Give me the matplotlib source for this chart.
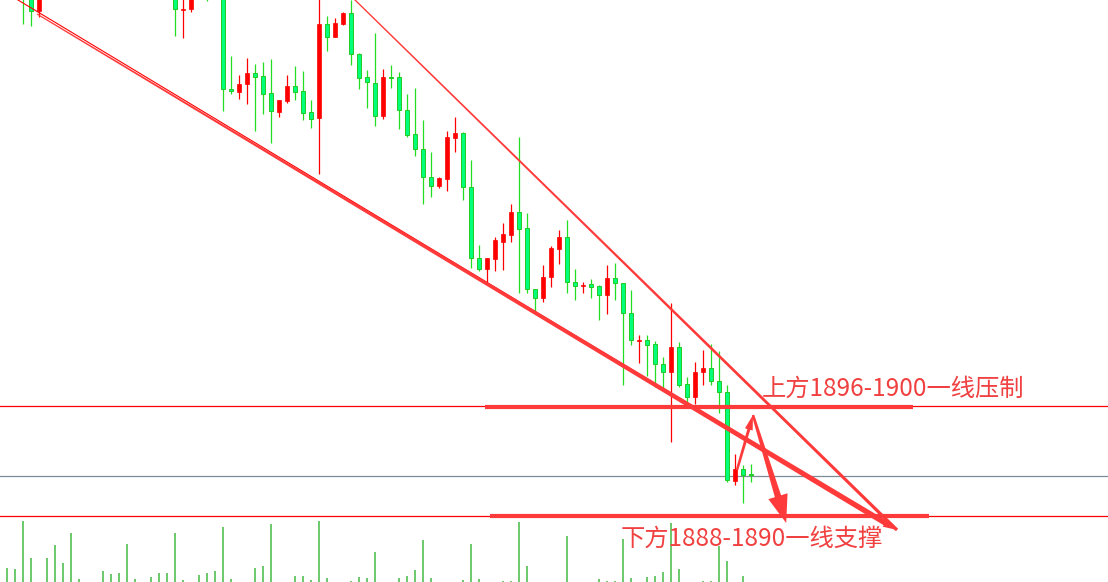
import numpy as np
import matplotlib
matplotlib.use("Agg")
import matplotlib.pyplot as plt
from matplotlib.patches import Polygon
from matplotlib.transforms import IdentityTransform

plt.rcParams['font.family'] = ['Noto Sans CJK SC', 'DejaVu Sans']

# candle data (red = up, green = down)
opens = [1944.0, 1942.6, 1942.0, 1940.5, 1938.9, 1941.5, 1943.5, 1945.2, 1944.1, 1948.1,
         1947.4, 1946.2, 1947.3, 1944.8, 1945.6, 1943.3, 1947.2, 1946.1, 1944.6, 1945.3,
         1943.0, 1941.5, 1939.0, 1939.1, 1941.0, 1942.2, 1941.1, 1942.0, 1931.1, 1930.8,
         1931.6, 1932.7, 1932.4, 1930.7, 1928.8, 1929.9, 1931.4, 1930.9, 1928.8, 1928.2,
         1937.6, 1936.3, 1937.6, 1938.7, 1934.6, 1932.3, 1931.7, 1928.4, 1932.3, 1932.3,
         1929.0, 1926.6, 1925.1, 1922.3, 1921.4, 1922.1, 1926.2, 1926.7, 1921.3, 1914.2,
         1913.1, 1914.1, 1915.8, 1916.5, 1918.8, 1917.2, 1911.1, 1910.2, 1912.3, 1915.1,
         1916.3, 1911.8, 1911.4, 1911.6, 1911.4, 1910.5, 1912.2, 1911.7, 1908.7, 1905.9,
         1906.0, 1905.6, 1903.6, 1902.8, 1905.3, 1901.6, 1900.3, 1902.8, 1903.2, 1901.9,
         1900.8, 1891.9, 1893.1, 1892.55]
highs = [1945.2, 1943.5, 1942.9, 1941.0, 1942.5, 1944.5, 1946.0, 1946.4, 1948.9, 1949.6,
         1948.4, 1947.9, 1948.1, 1946.1, 1946.4, 1947.9, 1947.8, 1946.9, 1945.9, 1945.8,
         1944.2, 1942.0, 1940.6, 1941.6, 1942.8, 1943.0, 1943.4, 1942.8, 1934.4, 1932.5,
         1934.2, 1933.6, 1933.8, 1934.1, 1930.0, 1932.5, 1933.4, 1932.9, 1930.0, 1940.5,
         1938.4, 1938.2, 1938.8, 1940.0, 1934.7, 1933.0, 1936.7, 1933.1, 1933.5, 1932.8,
         1930.6, 1931.2, 1928.0, 1924.8, 1922.3, 1926.9, 1928.3, 1926.8, 1924.0, 1915.5,
         1914.2, 1916.3, 1917.7, 1919.6, 1926.3, 1918.7, 1911.1, 1913.5, 1915.4, 1917.0,
         1918.0, 1913.1, 1911.8, 1912.1, 1911.5, 1913.5, 1913.7, 1911.7, 1911.0, 1906.5,
         1906.5, 1905.9, 1904.3, 1909.7, 1905.8, 1902.3, 1903.8, 1905.0, 1905.6, 1904.9,
         1901.5, 1894.6, 1893.5, 1893.6]
lows = [1942.1, 1941.2, 1937.6, 1937.4, 1938.3, 1940.6, 1942.8, 1943.5, 1943.6, 1946.9,
        1945.8, 1944.9, 1944.3, 1943.2, 1942.8, 1942.9, 1945.6, 1944.2, 1943.1, 1942.6,
        1941.1, 1936.4, 1936.2, 1938.8, 1940.3, 1939.9, 1940.4, 1928.9, 1930.6, 1930.1,
        1929.6, 1926.9, 1928.6, 1925.7, 1928.3, 1929.7, 1930.0, 1928.0, 1927.2, 1922.6,
        1934.9, 1936.3, 1937.5, 1933.5, 1931.1, 1929.2, 1927.4, 1928.1, 1931.2, 1927.1,
        1926.3, 1924.4, 1919.6, 1920.3, 1921.2, 1920.9, 1924.8, 1920.0, 1913.2, 1912.9,
        1911.6, 1912.9, 1913.0, 1915.8, 1910.7, 1910.7, 1908.8, 1909.8, 1911.3, 1913.6,
        1910.7, 1910.0, 1910.7, 1910.2, 1908.0, 1908.6, 1910.0, 1901.5, 1905.5, 1903.7,
        1902.4, 1901.3, 1901.2, 1895.8, 1901.3, 1899.7, 1899.6, 1901.5, 1901.5, 1898.7,
        1891.8, 1891.5, 1889.7, 1891.8]
closes = [1942.6, 1941.9, 1940.5, 1938.9, 1941.5, 1943.5, 1945.2, 1944.1, 1948.1, 1947.4,
          1946.2, 1947.3, 1944.8, 1945.6, 1943.3, 1947.2, 1946.1, 1944.6, 1945.3, 1943.0,
          1942.2, 1939.1, 1939.1, 1941.0, 1942.2, 1941.1, 1942.6, 1931.1, 1930.9, 1931.6,
          1932.7, 1932.3, 1930.6, 1928.9, 1930.0, 1931.4, 1930.8, 1928.7, 1928.1, 1937.6,
          1936.3, 1937.7, 1938.7, 1934.6, 1932.2, 1931.8, 1928.4, 1932.3, 1932.2, 1929.0,
          1926.5, 1925.1, 1922.3, 1921.4, 1922.2, 1926.3, 1926.7, 1921.3, 1914.2, 1913.1,
          1914.2, 1916.0, 1916.6, 1918.8, 1917.1, 1911.1, 1910.2, 1912.3, 1915.2, 1916.3,
          1911.8, 1911.4, 1911.5, 1911.3, 1910.5, 1912.2, 1911.7, 1908.7, 1906.0, 1906.0,
          1905.5, 1903.6, 1902.8, 1905.3, 1901.5, 1900.3, 1902.8, 1903.2, 1901.9, 1900.8,
          1892.0, 1893.1, 1892.5, 1892.5]
volumes = [14, 13, 61, 24, 0, 24, 37, 19, 49, 3,
           0, 0, 11, 8, 9, 38, 3, 0, 5, 9,
           9, 49, 2, 0, 7, 9, 11, 55, 3, 0,
           0, 14, 16, 58, 0, 0, 6, 6, 2, 61,
           4, 0, 0, 1, 5, 4, 30, 0, 0, 4,
           6, 12, 42, 4, 0, 0, 0, 2, 38, 3,
           0, 0, 1, 1, 60, 16, 0, 0, 0, 0,
           46, 0, 0, 0, 3, 1, 1, 43, 4, 0,
           5, 6, 10, 59, 13, 0, 0, 1, 1, 36,
           21, 0, 6, 0]

# levels and annotations (x = bar index, y = price)
level_upper = 1899.45
level_mid = 1892.45
level_lower = 1888.45
zone_upper = (59.75, 113.25, 1899.3)
zone_lower = (60.4, 115.25, 1888.4)
lower_thin = ((1.375, 1940.0), (107.9, 1888.7))
lower_arrow = ((3.75, 1938.6), (111.25, 1887.0))
upper_arrow = ((43.25, 1940.2), (111.25, 1887.0))
up_arrow = ((91.25, 1893.0), (93.25, 1898.5))
down_arrow = ((93.25, 1898.5), (97.4, 1887.7))
text_upper = (94.4, 1901.1, '上方1896-1900一线压制')
text_lower = (76.75, 1886.1, '下方1888-1890一线支撑')

RED = '#ff0000'
ANN = '#ff3a3a'
GREEN_FILL = '#00ff7a'
GREEN_EDGE = '#22cc22'

fig = plt.figure(figsize=(11.08, 5.82), dpi=100)
fig.patch.set_facecolor('white')

x = np.arange(len(opens))
xlim = (-0.875, 137.625)

# volume panel
vax = fig.add_axes([0, 0, 1, 65 / 582])
vax.vlines(x, 0, volumes, color='#44bb44', lw=1.1)
vax.set_xlim(xlim)
vax.set_ylim(0, 65)
vax.axis('off')

ax = fig.add_axes([0, 0, 1, 1])
ax.patch.set_alpha(0)
ax.set_xlim(xlim)
ax.set_ylim(1881.8, 1940.0)
ax.axis('off')

# candles
for i in range(len(opens)):
    up = closes[i] >= opens[i]
    col = RED if up else '#22dd22'
    ax.vlines(i, lows[i], highs[i], color=col, lw=0.9, zorder=3)
    bottom = min(opens[i], closes[i])
    h = max(abs(closes[i] - opens[i]), 0.06)
    if up:
        ax.bar(i, h, bottom=bottom, width=0.6, color=RED, edgecolor=RED, lw=0.5, zorder=4)
    else:
        ax.bar(i, h, bottom=bottom, width=0.6, color=GREEN_FILL, edgecolor=GREEN_EDGE, lw=0.7, zorder=4)

# horizontal lines
ax.axhline(level_upper, color=RED, lw=0.9, zorder=2)
ax.axhline(level_mid, color='#7b8b98', lw=0.9, zorder=2)
ax.axhline(level_lower, color=RED, lw=0.9, zorder=2)
ax.hlines(zone_upper[2], zone_upper[0], zone_upper[1], color=ANN, lw=3.0, zorder=5)
ax.hlines(zone_lower[2], zone_lower[0], zone_lower[1], color=ANN, lw=3.0, zorder=5)


def taper(p0, p1, w0, w1, color, head_len=0.0, head_w=0.0):
    # tapered line / arrow, widths in pixels
    a, b = ax.transData.transform([p0, p1])
    d = b - a
    length = np.hypot(*d)
    u = d / length
    n = np.array([-u[1], u[0]])
    if head_len > 0:
        base = b - u * head_len
        pts = [a + n * w0 / 2, base + n * w1 / 2, base + n * head_w / 2, b,
               base - n * head_w / 2, base - n * w1 / 2, a - n * w0 / 2]
    else:
        pts = [a + n * w0 / 2, b + n * w1 / 2, b - n * w1 / 2, a - n * w0 / 2]
    ax.add_patch(Polygon(pts, closed=True, transform=IdentityTransform(),
                         facecolor=color, edgecolor='none', zorder=6, clip_on=False))


ax.plot([lower_thin[0][0], lower_thin[1][0]], [lower_thin[0][1], lower_thin[1][1]],
        color=RED, lw=0.8, zorder=6)
taper(lower_arrow[0], lower_arrow[1], 1.2, 5.5, ANN, head_len=14, head_w=9)
taper(upper_arrow[0], upper_arrow[1], 1.3, 3.3, ANN)
taper(up_arrow[0], up_arrow[1], 2.5, 3.0, ANN, head_len=15, head_w=8)
taper(down_arrow[0], down_arrow[1], 2.5, 6.5, ANN, head_len=28, head_w=20)

ax.text(text_upper[0], text_upper[1], text_upper[2], color='#f04040', fontsize=17.5,
        va='center', ha='left', zorder=7)
ax.text(text_lower[0], text_lower[1], text_lower[2], color='#f04040', fontsize=17.5,
        va='center', ha='left', zorder=7)

fig.savefig('out.png', dpi=100, facecolor='white')
